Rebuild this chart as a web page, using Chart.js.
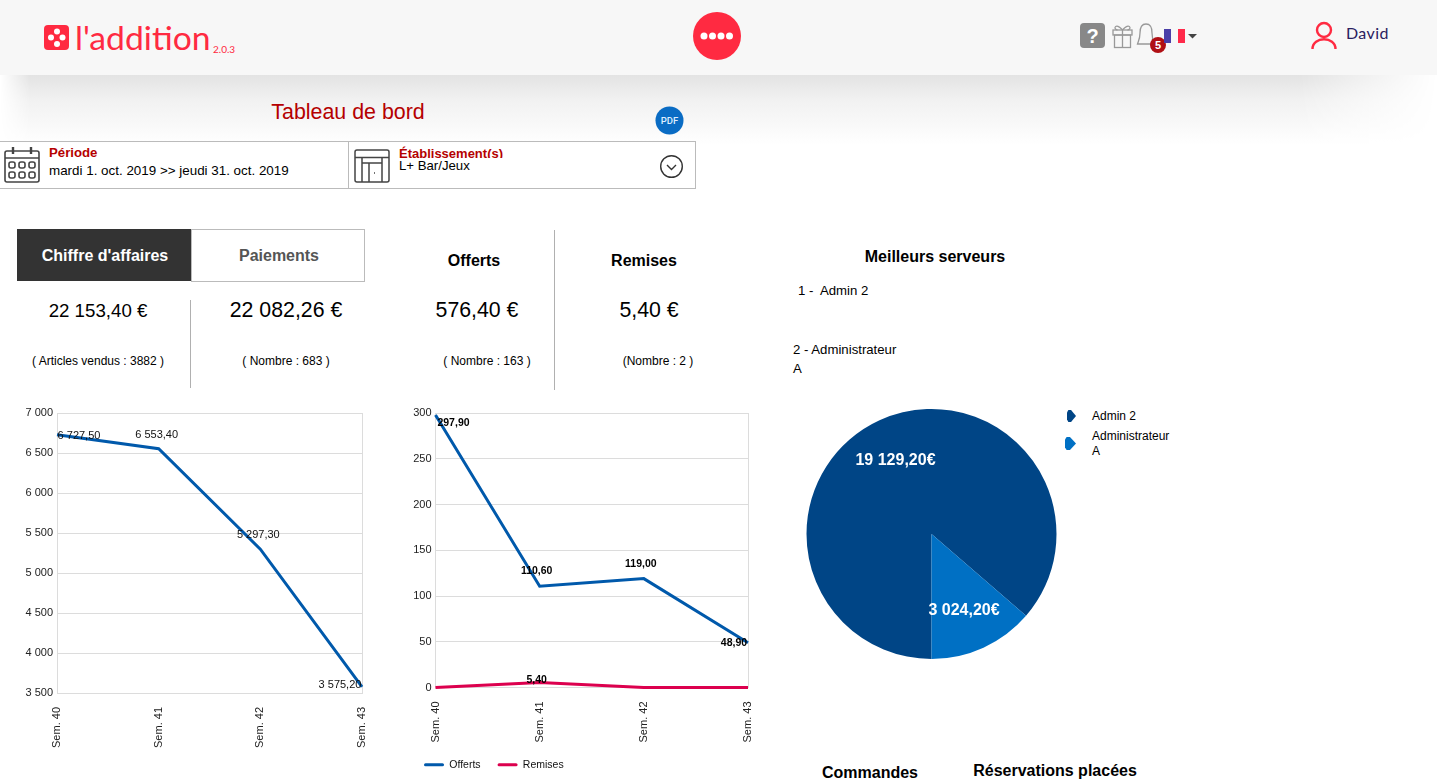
<!DOCTYPE html>
<html lang="fr">
<head>
<meta charset="utf-8">
<title>Tableau de bord</title>
<script src="https://cdn.jsdelivr.net/npm/chart.js@4"></script>
<style>
html, body { margin: 0; padding: 0; background: #fff; overflow: hidden; }
body { width: 1437px; height: 784px; position: relative; font-family: "Liberation Sans", Arial, sans-serif; color: #000; }
.abs { position: absolute; white-space: nowrap; line-height: 1; }
.mid { transform: translate(-50%, -50%); }
.lft { transform: translateY(-50%); }
.tit { font-size: 16px; font-weight: bold; }
.val { font-size: 21.300px; }
.sub { font-size: 12px; }
.srv { font-size: 13.2px; }
#shadow { position: absolute; left: 0; top: 75px; width: 100%; height: 70px; background: linear-gradient(#e3e3e3, #f1f1f1 35%, #fff); -webkit-mask-image: linear-gradient(90deg, transparent 0, #000 30px, #000 1300px, transparent 1437px); }
#header { position: absolute; left: 0; top: 0; width: 100%; height: 75px; background: #f7f7f7; }
canvas { position: absolute; }
#cvs_ca { left: 0; top: 401px; }
#cvs_offerts { left: 400px; top: 401px; }
#cvs_serveurs { left: 801px; top: 404px; }
</style>
</head>
<body>
<div id="shadow"></div>
<div id="header"></div>

<!-- logo -->
<svg class="abs" style="left:44px;top:25px" width="25" height="25" viewBox="0 0 25 25">
  <rect width="25" height="25" rx="4" fill="#ff2a41"/>
  <circle cx="7" cy="12.5" r="3" fill="#fff"/><circle cx="13" cy="6.5" r="3" fill="#fff"/>
  <circle cx="18.5" cy="12.5" r="3" fill="#fff"/><circle cx="13" cy="19" r="3" fill="#fff"/>
</svg>
<div class="abs lft" style="left:75px;top:37px;font:400 33.700px Lato,sans-serif;color:#ff2a41">l'addition</div>
<div class="abs lft" style="left:213px;top:49px;font:10px Lato,sans-serif;color:#ff2a41">2.0.3</div>

<svg class="abs" style="left:693px;top:12px" width="48" height="48" viewBox="0 0 48 48">
  <circle cx="24" cy="24" r="24" fill="#ff2a41"/>
  <circle cx="11" cy="24" r="3.5" fill="#fff"/><circle cx="19.5" cy="24" r="3.5" fill="#fff"/>
  <circle cx="28" cy="24" r="3.5" fill="#fff"/><circle cx="36.5" cy="24" r="3.5" fill="#fff"/>
</svg>

<!-- icones de droite -->
<svg class="abs" style="left:1078px;top:20px" width="125" height="36" viewBox="0 0 125 36">
  <rect x="2" y="3" width="25" height="25" rx="4" fill="#888"/>
  <text x="14.5" y="23" text-anchor="middle" font-family="Liberation Sans" font-weight="bold" font-size="20" fill="#fff">?</text>
  <g fill="none" stroke="#999" stroke-width="1.3">
    <rect x="35" y="10" width="19" height="5"/><rect x="36.5" y="15" width="16" height="12.5"/>
    <path d="M44.5 10V27.5M44.5 10c-7-8-10-1-5 0M44.5 10c7-8 10-1 5 0"/>
    <path d="M68 4c-5 0-6 4-6 9 0 6-2 9-2.500 11h17c-1-2-2.500-5-2.500-11 0-5-1-9-6-9z"/>
  </g>
  <circle cx="80" cy="25" r="8" fill="#b01015"/>
  <text x="80" y="29" text-anchor="middle" font-family="Liberation Sans" font-weight="bold" font-size="11" fill="#fff">5</text>
  <rect x="86" y="9" width="7" height="14" fill="#4a3fa8"/>
  <rect x="100" y="9" width="7" height="14" fill="#ff2a4a"/>
  <path d="M110 14h9l-4.500 4.500z" fill="#444"/>
</svg>
<svg class="abs" style="left:1310px;top:21px" width="28" height="30" viewBox="0 0 28 30">
  <g fill="none" stroke="#ff2a41" stroke-width="2.400">
    <circle cx="14" cy="9" r="7"/><path d="M2.500 28c0-13 23-13 23 0"/>
  </g>
</svg>
<div class="abs lft" style="left:1346px;top:32px;font:16px Lato,sans-serif;color:#2a2060;letter-spacing:.4px">David</div>

<!-- titre et filtres -->
<div class="abs mid" style="left:348px;top:113px;font-size:21.400px;color:#b50000">Tableau de bord</div>
<svg class="abs" style="left:655px;top:106px" width="29" height="29" viewBox="0 0 29 29">
  <circle cx="14.5" cy="14.5" r="14" fill="#0a6cc4"/>
  <text x="14.5" y="18" text-anchor="middle" font-family="Roboto" font-size="9.500" font-weight="500" fill="#dfeeff">PDF</text>
</svg>
<div class="abs" style="left:-2px;top:141px;width:696px;height:46px;border:1px solid #bbb"></div>
<div class="abs" style="left:348px;top:141px;width:1px;height:47px;background:#bbb"></div>
<svg class="abs" style="left:3px;top:145px" width="38" height="39" viewBox="0 0 38 39">
  <g fill="none" stroke="#444" stroke-width="1.600">
    <rect x="2" y="6" width="34" height="31" rx="2"/><path d="M2 13H36"/>
    <path d="M10 2V9M28 2V9" stroke-width="2.400"/>
    <rect x="6" y="17" width="6" height="6" rx="2"/><rect x="16" y="17" width="6" height="6" rx="2"/><rect x="26" y="17" width="6" height="6" rx="2"/>
    <rect x="6" y="27" width="6" height="6" rx="2"/><rect x="16" y="27" width="6" height="6" rx="2"/><rect x="26" y="27" width="6" height="6" rx="2"/>
  </g>
</svg>
<div class="abs lft" style="left:49px;top:153px;font-size:13.200px;font-weight:bold;color:#b50000">Période</div>
<div class="abs lft" style="left:49px;top:171px;font-size:13.400px">mardi 1. oct. 2019 &gt;&gt; jeudi 31. oct. 2019</div>
<svg class="abs" style="left:354px;top:148px" width="37" height="35" viewBox="0 0 37 35">
  <g fill="none" stroke="#444" stroke-width="1.500">
    <rect x="1" y="2" width="34" height="32" rx="2"/><path d="M1 9.500H35M8 9.500V34M28 9.500V34M8 15H28M15 15V34"/>
    <path d="M20 25h1"/>
  </g>
</svg>
<div class="abs lft" style="left:399px;top:152px;font-size:13px;font-weight:bold;color:#b50000;height:12px;line-height:15px;overflow:hidden">Établissement(s)</div>
<div class="abs lft" style="left:399px;top:166px;font-size:13.200px">L+ Bar/Jeux</div>
<svg class="abs" style="left:659px;top:154px" width="25" height="25" viewBox="0 0 25 25">
  <circle cx="12.500" cy="12.500" r="10.800" fill="none" stroke="#333" stroke-width="1.400"/>
  <path d="M8 11l4.500 4.500 4.500-4.500" fill="none" stroke="#333" stroke-width="1.400"/>
</svg>

<!-- onglets et chiffres -->
<div class="abs" style="left:17px;top:229px;width:174px;height:52px;background:#333;border:1px solid #333;box-sizing:border-box"></div>
<div class="abs" style="left:191px;top:229px;width:174px;height:53px;border:1px solid #bbb;box-sizing:border-box"></div>
<div class="abs mid tit" style="left:105px;top:256px;color:#fff">Chiffre d'affaires</div>
<div class="abs mid tit" style="left:279px;top:256px;color:#555">Paiements</div>
<div class="abs mid tit" style="left:474px;top:261px">Offerts</div>
<div class="abs mid tit" style="left:644px;top:261px">Remises</div>
<div class="abs mid tit" style="left:935px;top:257px">Meilleurs serveurs</div>
<div class="abs" style="left:189.500px;top:300px;width:1.500px;height:88px;background:#b0b0b0"></div>
<div class="abs" style="left:553.500px;top:230px;width:1.500px;height:160px;background:#b0b0b0"></div>
<div class="abs mid val" style="left:98px;top:311px;font-size:18.700px">22 153,40 €</div>
<div class="abs mid val" style="left:286px;top:311px">22 082,26 €</div>
<div class="abs mid val" style="left:477px;top:311px">576,40 €</div>
<div class="abs mid val" style="left:649px;top:311px">5,40 €</div>
<div class="abs mid sub" style="left:98px;top:361px">( Articles vendus : 3882 )</div>
<div class="abs mid sub" style="left:286px;top:361px">( Nombre : 683 )</div>
<div class="abs mid sub" style="left:487px;top:361px">( Nombre : 163 )</div>
<div class="abs mid sub" style="left:658px;top:361px">(Nombre : 2 )</div>
<div class="abs lft srv" style="left:798px;top:291px;white-space:pre">1 -  Admin 2</div>
<div class="abs lft srv" style="left:793px;top:350px">2 - Administrateur</div>
<div class="abs lft srv" style="left:793px;top:369px">A</div>

<canvas id="cvs_ca"></canvas>
<canvas id="cvs_offerts"></canvas>
<canvas id="cvs_serveurs"></canvas>
<div id="legende_serveurs"></div>

<div class="abs mid tit" style="left:870px;top:773px">Commandes</div>
<div class="abs mid tit" style="left:1055px;top:771px">Réservations placées</div>

<script>
// Données
const semaines = ["Sem. 40", "Sem. 41", "Sem. 42", "Sem. 43"];
const chiffreAffaires = [6727.5, 6553.4, 5297.3, 3575.2];
const offerts = [297.9, 110.6, 119, 48.9];
const remises = [0, 5.4, 0, 0];
const serveurs = ["Admin 2", "Administrateur A"];
const ventesServeurs = [19129.2, 3024.2];

const ticksCa = [3500, 4000, 4500, 5000, 5500, 6000, 6500, 7000];
const ticksOfferts = [0, 50, 100, 150, 200, 250, 300];

const FONTE = '"Liberation Sans", Arial, sans-serif';
const BLEU = "#0059ab";
const ROSE = "#dc004e";
const GRILLE = "#dcdcdc";
const COULEURS_PIE = ["#004586", "#0070c4"];

// 6727.5 -> "6 727,50"
function formatNombre(v, decimales) {
    const p = v.toFixed(decimales).split(".");
    p[0] = p[0].replace(/\B(?=(\d{3})+$)/g, " ");
    return p.join(",");
}

// Etiquettes de valeur, décalées par rapport au point
const pluginValeurs = {
    id: "valeurs",
    afterDatasetsDraw(chart, args, opts) {
        const { ctx } = chart;
        ctx.save();
        ctx.textAlign = "center";
        ctx.textBaseline = "middle";
        ctx.fillStyle = opts.color;
        ctx.font = opts.font;
        chart.data.datasets.forEach((ds, i) => {
            chart.getDatasetMeta(i).data.forEach((el, j) => {
                if (ds.data[j] === 0) return;
                const pos = el.getCenterPoint();
                const d = opts.decalages[i][j];
                ctx.fillText(opts.texte(ds.data[j]), pos.x + d[0], pos.y + d[1]);
            });
        });
        ctx.restore();
    }
};

function echelles(ticksListe, largeurY, hauteurX) {
    return {
        x: {
            offset: false,
            // seulement le bord droit, pas de lignes verticales intermédiaires
            grid: { drawTicks: false, color: ctx => ctx.index === semaines.length - 1 ? GRILLE : "transparent" },
            border: { color: GRILLE },
            ticks: { minRotation: 90, maxRotation: 90, autoSkip: false, padding: 14, color: "#222", font: { family: FONTE, size: 11 } },
            afterFit(axe) { axe.height = hauteurX; }
        },
        y: {
            min: ticksListe[0],
            max: ticksListe[ticksListe.length - 1],
            grid: { color: GRILLE, drawTicks: false },
            border: { color: GRILLE },
            ticks: { padding: 4, color: "#222", font: { family: FONTE, size: 11 }, callback: v => formatNombre(v, 0) },
            afterBuildTicks(axe) { axe.ticks = ticksListe.map(v => ({ value: v })); },
            afterFit(axe) { axe.width = largeurY; }
        }
    };
}

function taille(id, l, h) {
    const c = document.getElementById(id);
    c.style.width = l + "px";
    c.style.height = h + "px";
    return c;
}

new Chart(taille("cvs_ca", 390, 379), {
    type: "line",
    data: {
        labels: semaines,
        datasets: [{ label: "Chiffre d'affaires", data: chiffreAffaires, borderColor: BLEU, borderWidth: 3, pointRadius: 0, tension: 0, clip: false }]
    },
    options: {
        responsive: false,
        animation: false,
        layout: { padding: { left: 0, top: 12, right: 28, bottom: 0 } },
        scales: echelles(ticksCa, 57, 87),
        plugins: {
            legend: { display: false },
            tooltip: { enabled: false },
            valeurs: {
                color: "#111",
                font: `11px ${FONTE}`,
                texte: v => formatNombre(v, 2),
                decalages: [[[22, 1], [-2, -14], [-2, -14], [-22, -2]]]
            }
        }
    },
    plugins: [pluginValeurs]
});

new Chart(taille("cvs_offerts", 380, 379), {
    type: "line",
    data: {
        labels: semaines,
        datasets: [
            { label: "Offerts", data: offerts, borderColor: BLEU, backgroundColor: BLEU, borderWidth: 3, pointRadius: 0, tension: 0, clip: false },
            { label: "Remises", data: remises, borderColor: ROSE, backgroundColor: ROSE, borderWidth: 3, pointRadius: 0, tension: 0, clip: false }
        ]
    },
    options: {
        responsive: false,
        animation: false,
        layout: { padding: { left: 7, top: 12, right: 32, bottom: 0 } },
        scales: echelles(ticksOfferts, 28.5, 55),
        plugins: {
            legend: {
                position: "bottom",
                align: "start",
                labels: {
                    boxWidth: 20,
                    boxHeight: 3,
                    padding: 17,
                    color: "#111",
                    font: { family: FONTE, size: 10.5 },
                    useBorderRadius: true,
                    borderRadius: 1.5,
                    generateLabels: chart => Chart.defaults.plugins.legend.labels.generateLabels(chart).map(l => ({ ...l, lineWidth: 0 }))
                }
            },
            tooltip: { enabled: false },
            valeurs: {
                color: "#000",
                font: `bold 10.5px ${FONTE}`,
                texte: v => formatNombre(v, 2),
                decalages: [
                    [[18, 8], [-3, -15], [-3, -15], [-14, 0]],
                    [[0, 0], [-3, -2], [0, 0], [0, 0]]
                ]
            }
        }
    },
    plugins: [pluginValeurs]
});

new Chart(taille("cvs_serveurs", 261, 260), {
    type: "pie",
    data: {
        labels: serveurs,
        datasets: [{ data: ventesServeurs, backgroundColor: COULEURS_PIE, borderWidth: 0 }]
    },
    options: {
        responsive: false,
        animation: false,
        rotation: 180,
        layout: { padding: 5 },
        plugins: {
            legend: { display: false },
            tooltip: { enabled: false },
            valeurs: {
                color: "#fff",
                font: `bold 16px ${FONTE}`,
                texte: v => formatNombre(v, 2) + "€",
                decalages: [[[-10, -17], [6.5, 20]]]
            }
        }
    },
    plugins: [pluginValeurs]
});

// Légende du camembert en HTML (le libellé passe sur deux lignes)
const legende = document.getElementById("legende_serveurs");
const hautLegende = [409, 429];
serveurs.forEach((nom, i) => {
    const marque = document.createElement("div");
    marque.className = "abs";
    marque.style.cssText = `left:${i ? 1065 : 1067}px;top:${i ? 437 : 410}px;width:${i ? 11 : 9}px;height:${i ? 13 : 12}px;background:${COULEURS_PIE[i]};clip-path:polygon(15% 0,45% 0,100% 50%,45% 100%,15% 100%,0 80%,0 20%)`;
    legende.appendChild(marque);
    const texte = document.createElement("div");
    texte.className = "abs";
    texte.style.cssText = `left:1092px;top:${hautLegende[i]}px;font-size:12px;line-height:15px;white-space:normal;width:80px`;
    texte.textContent = nom;
    legende.appendChild(texte);
});
</script>
</body>
</html>
